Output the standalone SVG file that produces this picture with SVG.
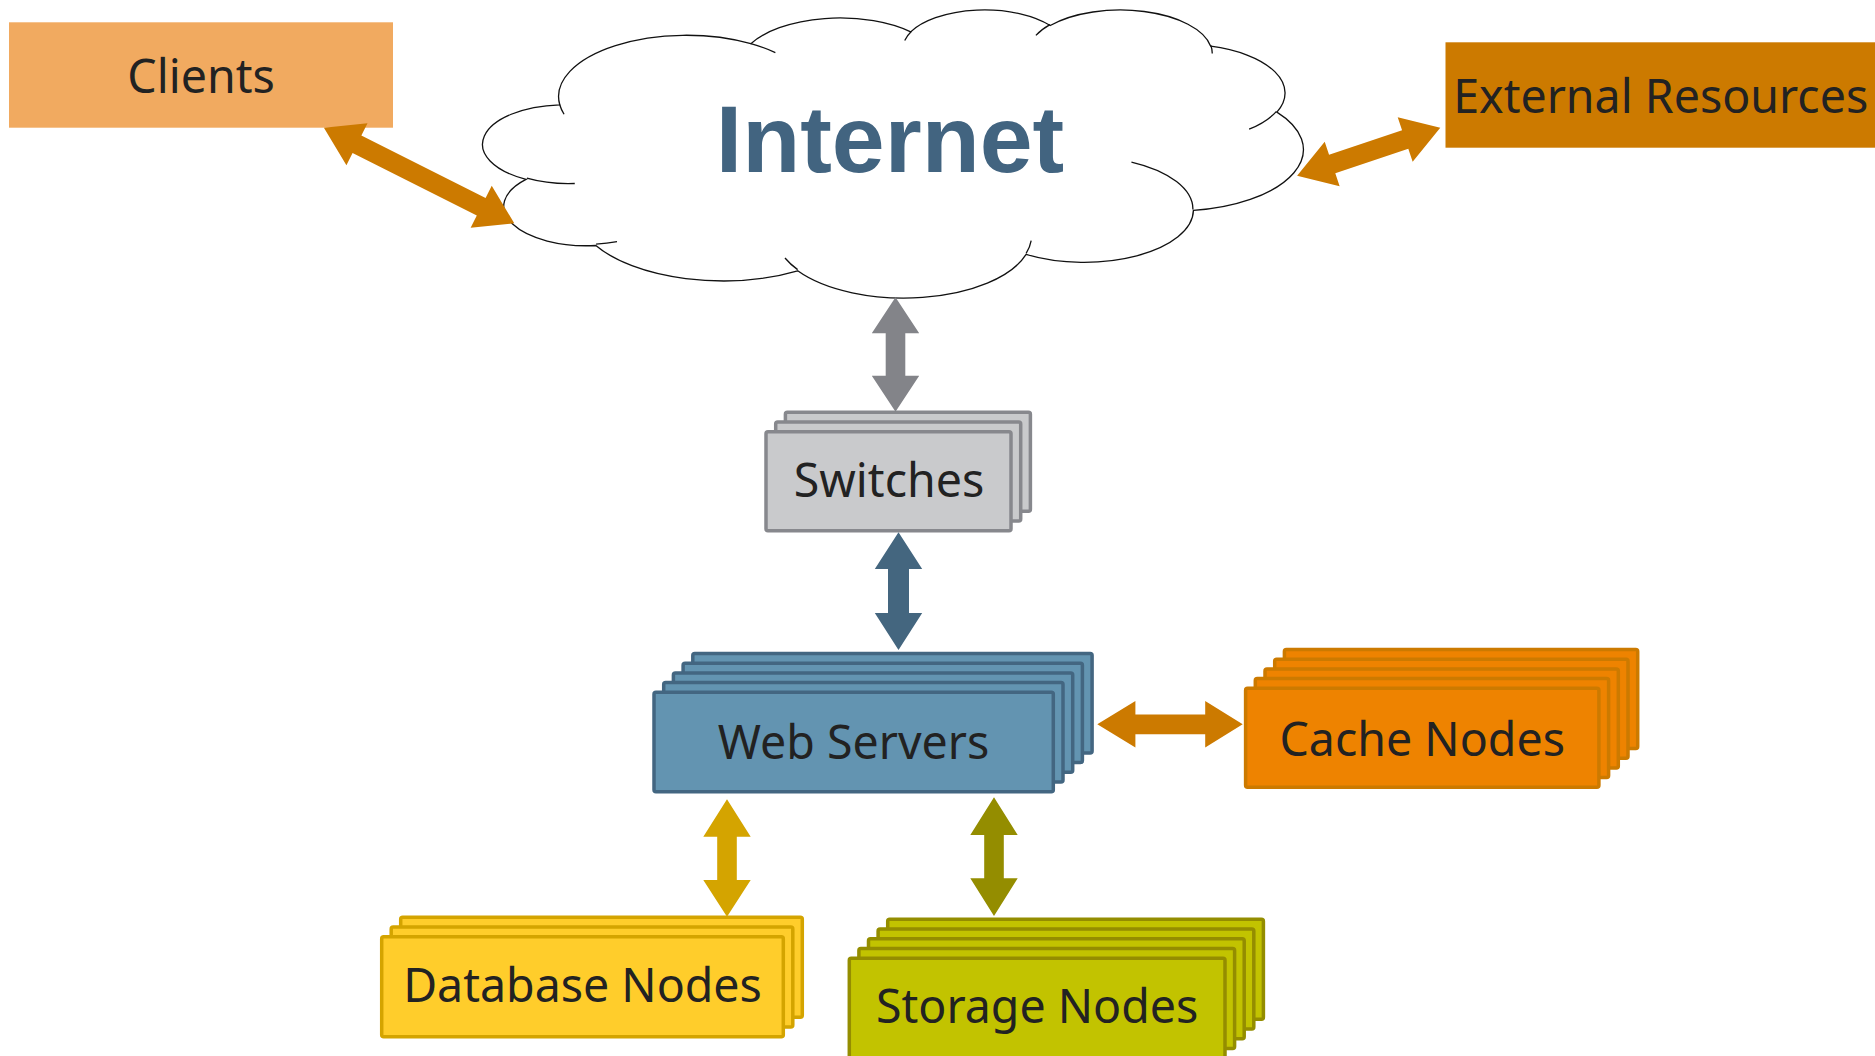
<svg xmlns="http://www.w3.org/2000/svg" width="1875" height="1056" viewBox="0 0 1875 1056">
<style>
.lbl{font-family:"Noto Sans","Open Sans","Liberation Sans",sans-serif;font-size:46.5px;fill:#222222;text-anchor:middle}
.inet{font-family:"Liberation Sans","Noto Sans",sans-serif;font-size:95px;font-weight:bold;fill:#426480;text-anchor:middle}
.cloud{fill:#ffffff;stroke:#111111;stroke-width:1.3;vector-effect:non-scaling-stroke}
.cloudin{fill:none;stroke:#111111;stroke-width:1.3;vector-effect:non-scaling-stroke}
.sw rect{fill:#C9CACC;stroke:#87888D;stroke-width:3.5}
.web rect{fill:#6394B1;stroke:#436681;stroke-width:3.5}
.cache rect{fill:#EE8300;stroke:#CC7A00;stroke-width:3.5}
.db rect{fill:#FFCD2B;stroke:#D4A400;stroke-width:3.5}
.st rect{fill:#C2C300;stroke:#948D00;stroke-width:3.5}
.a-or{fill:#CC7A00}
.a-gr{fill:#838489}
.a-bl{fill:#44667F}
.a-db{fill:#D4A400}
.a-st{fill:#948D00}
</style>

<g id="clients">
<rect x="9" y="22.3" width="384" height="105.4" fill="#F1AA60"/>
<text class="lbl" x="201" y="92.7">Clients</text>
</g>

<g id="external-resources">
<rect x="1445.5" y="42.3" width="430" height="105.4" fill="#CC7A00"/>
<text class="lbl" x="1660.7" y="112.7">External Resources</text>
</g>

<g id="internet">
<g transform="translate(486,9) scale(0.018912,0.0066667)">
<path class="cloud" d="M3900 14370 A6753 9190 0 0 1 14005 5202 A5333 7267 0 0 1 22456 3433 A4365 5945 0 0 1 29834 2483 A4857 6595 0 0 1 38320 5578 A5333 7273 0 0 1 41820 15462 A6775 9220 0 0 1 37406 30204 A5785 7867 0 0 1 28558 36815 A6752 9215 0 0 1 16482 39266 A7720 10543 0 0 1 5807 35473 A4360 5918 0 0 1 2116 25551 A4345 5945 0 0 1 3900 14370 Z"/>
<path class="cloudin" d="M4693 26177 A4345 5945 0 0 1 2159 25379 M6928 34899 A4360 5918 0 0 1 5820 35280 M16478 39090 A6752 9215 0 0 1 15810 37351 M28827 34751 A6752 9215 0 0 1 28560 36660 M34129 22954 A5785 7867 0 0 1 37380 30090 M41798 15354 A5333 7273 0 0 1 40350 18030 M38324 5426 A4857 6595 0 0 1 38400 6690 M29078 3952 A4857 6595 0 0 1 29819 2341 M22141 4720 A4365 5945 0 0 1 22500 3330 M14000 5192 A6753 9190 0 0 1 15300 6539 M4127 15789 A6753 9190 0 0 1 3900 14370"/>
</g>
<text class="inet" x="890" y="172">Internet</text>
</g>

<g id="switches" class="sw">
<rect x="785.4" y="412.3" width="245" height="99" rx="2"/>
<rect x="775.7" y="422" width="245" height="99" rx="2"/>
<rect x="766" y="431.7" width="245" height="99" rx="2"/>
<text class="lbl" x="889" y="497">Switches</text>
</g>

<g id="web-servers" class="web">
<rect x="692.8" y="653.5" width="399.3" height="99.4" rx="2"/>
<rect x="683.1" y="663.2" width="399.3" height="99.4" rx="2"/>
<rect x="673.4" y="672.9" width="399.3" height="99.4" rx="2"/>
<rect x="663.7" y="682.6" width="399.3" height="99.4" rx="2"/>
<rect x="654" y="692.3" width="399.3" height="99.4" rx="2"/>
<text class="lbl" x="853.5" y="759.3">Web Servers</text>
</g>

<g id="cache-nodes" class="cache">
<rect x="1284.4" y="649.5" width="353.3" height="99" rx="2"/>
<rect x="1274.7" y="659.2" width="353.3" height="99" rx="2"/>
<rect x="1265" y="668.9" width="353.3" height="99" rx="2"/>
<rect x="1255.3" y="678.6" width="353.3" height="99" rx="2"/>
<rect x="1245.6" y="688.3" width="353.3" height="99" rx="2"/>
<text class="lbl" x="1422.2" y="755.7">Cache Nodes</text>
</g>

<g id="database-nodes" class="db">
<rect x="400.7" y="917.3" width="401.6" height="100" rx="2"/>
<rect x="391.2" y="927" width="401.6" height="100" rx="2"/>
<rect x="381.7" y="936.7" width="401.6" height="100" rx="2"/>
<text class="lbl" x="582.5" y="1002.3">Database Nodes</text>
</g>

<g id="storage-nodes" class="st">
<rect x="887.7" y="919.3" width="375.7" height="100" rx="2"/>
<rect x="878.1" y="929.1" width="375.7" height="100" rx="2"/>
<rect x="868.5" y="938.8" width="375.7" height="100" rx="2"/>
<rect x="858.9" y="948.6" width="375.7" height="100" rx="2"/>
<rect x="849.3" y="958.3" width="375.7" height="100" rx="2"/>
<text class="lbl" x="1037.2" y="1023.3">Storage Nodes</text>
</g>

<g id="connectors">
<polygon class="a-or" transform="translate(323.9,127.7) rotate(26.66)" points="0,0 37,-23.5 37,-9.8 176,-9.8 176,-23.5 213,0 176,23.5 176,9.8 37,9.8 37,23.5"/>
<polygon class="a-or" transform="translate(1297.1,175.7) rotate(-18.54)" points="0,0 37,-23.5 37,-9.8 114,-9.8 114,-23.5 151,0 114,23.5 114,9.8 37,9.8 37,23.5"/>
<polygon class="a-gr" points="895.5,297.3 919.2,333.3 905.3,333.3 905.3,375.7 919.2,375.7 895.5,411.7 871.8,375.7 885.7,375.7 885.7,333.3 871.8,333.3"/>
<polygon class="a-bl" points="898.5,532.3 922.2,569 909,569 909,613 922.2,613 898.5,650 874.8,613 888,613 888,569 874.8,569"/>
<polygon class="a-or" points="1097.3,724.3 1135.4,701 1135.4,714.4 1205.2,714.4 1205.2,701 1242.7,724.3 1205.2,747.6 1205.2,734.2 1135.4,734.2 1135.4,747.6"/>
<polygon class="a-db" points="727,799.3 750.7,836.7 736.8,836.7 736.8,880 750.7,880 727,916.7 703.3,880 717.2,880 717.2,836.7 703.3,836.7"/>
<polygon class="a-st" points="994,797.3 1017.7,835 1003.8,835 1003.8,878.3 1017.7,878.3 994,916 970.3,878.3 984.2,878.3 984.2,835 970.3,835"/>
</g>
</svg>
